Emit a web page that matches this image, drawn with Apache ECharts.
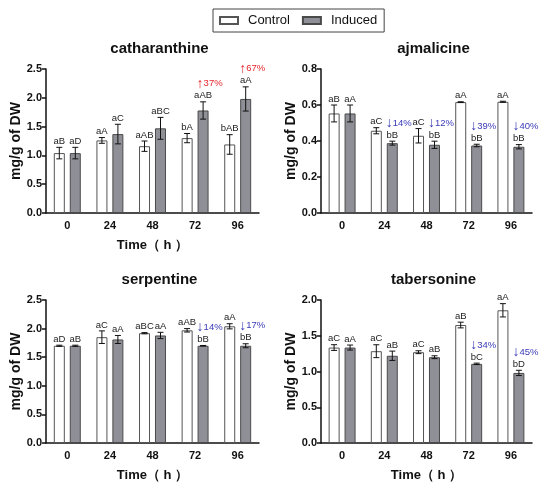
<!DOCTYPE html>
<html>
<head>
<meta charset="utf-8">
<script src="https://cdn.jsdelivr.net/npm/echarts@6/dist/echarts.min.js"></script>
<style>
  html, body { margin: 0; padding: 0; background: #fff; }
  #main { width: 550px; height: 488px; }
</style>
</head>
<body>
<div id="main"></div>
<script>
// time points (h)
const categories = ['0', '24', '48', '72', '96'];

// catharanthine
const cathControl = [1.04, 1.26, 1.16, 1.30, 1.19];
const cathControlErr = [0.10, 0.05, 0.09, 0.08, 0.17];
const cathInduced = [1.04, 1.37, 1.47, 1.78, 1.98];
const cathInducedErr = [0.10, 0.17, 0.19, 0.15, 0.21];
const cathControlTags = ['aB', 'aA', 'aAB', 'bA', 'bAB'];
const cathInducedTags = ['aD', 'aC', 'aBC', 'aAB', 'aA'];
const cathChange = ['', '', '', '↑37%', '↑67%'];

// ajmalicine
const ajmControl = [0.553, 0.457, 0.429, 0.616, 0.618];
const ajmControlErr = [0.047, 0.017, 0.040, 0.002, 0.003];
const ajmInduced = [0.553, 0.388, 0.379, 0.375, 0.368];
const ajmInducedErr = [0.047, 0.011, 0.020, 0.007, 0.012];
const ajmControlTags = ['aB', 'aC', 'aC', 'aA', 'aA'];
const ajmInducedTags = ['aA', 'bB', 'bB', 'bB', 'bB'];
const ajmChange = ['', '↓14%', '↓12%', '↓39%', '↓40%'];

// serpentine
const serpControl = [1.70, 1.85, 1.92, 1.97, 2.04];
const serpControlErr = [0.01, 0.11, 0.01, 0.03, 0.045];
const serpInduced = [1.70, 1.81, 1.88, 1.70, 1.70];
const serpInducedErr = [0.01, 0.07, 0.055, 0.005, 0.035];
const serpControlTags = ['aD', 'aC', 'aBC', 'aAB', 'aA'];
const serpInducedTags = ['aB', 'aA', 'aA', 'bB', 'bB'];
const serpChange = ['', '', '', '↓14%', '↓17%'];

// tabersonine
const tabControl = [1.335, 1.284, 1.27, 1.65, 1.856];
const tabControlErr = [0.04, 0.09, 0.02, 0.04, 0.093];
const tabInduced = [1.335, 1.22, 1.20, 1.107, 0.98];
const tabInducedErr = [0.035, 0.065, 0.02, 0.01, 0.037];
const tabControlTags = ['aC', 'aC', 'aC', 'aB', 'aA'];
const tabInducedTags = ['aA', 'aB', 'aB', 'bC', 'bD'];
const tabChange = ['', '', '', '↓34%', '↓45%'];

// axis ranges
const yMax = [2.5, 0.8, 2.5, 2.0];
const yStep = [0.5, 0.2, 0.5, 0.5];
const titles = ['catharanthine', 'ajmalicine', 'serpentine', 'tabersonine'];

const panels = [
  { control: cathControl, cErr: cathControlErr, induced: cathInduced, iErr: cathInducedErr,
    cTags: cathControlTags, iTags: cathInducedTags, change: cathChange },
  { control: ajmControl, cErr: ajmControlErr, induced: ajmInduced, iErr: ajmInducedErr,
    cTags: ajmControlTags, iTags: ajmInducedTags, change: ajmChange },
  { control: serpControl, cErr: serpControlErr, induced: serpInduced, iErr: serpInducedErr,
    cTags: serpControlTags, iTags: serpInducedTags, change: serpChange },
  { control: tabControl, cErr: tabControlErr, induced: tabInduced, iErr: tabInducedErr,
    cTags: tabControlTags, iTags: tabInducedTags, change: tabChange }
];

const FONT = 'Arial, "Liberation Sans", sans-serif';
const BAR_W = 11;
const OFFSET = 8; // half of barWidth + gap

const grids = [
  { left: 46, top: 69, width: 213, height: 144 },
  { left: 321, top: 69, width: 211, height: 144 },
  { left: 46, top: 300, width: 213, height: 143 },
  { left: 321, top: 300, width: 211, height: 143 }
];

// error bars + letter tags (+ optional change note) drawn over a bar
function errorSeries(gi, values, errs, tags, offset, change) {
  return {
    type: 'custom',
    xAxisIndex: gi,
    yAxisIndex: gi,
    z: 5,
    silent: true,
    data: values.map((v, i) => [i, v, errs[i]]),
    encode: { x: 0, y: 1 },
    renderItem: function (params, api) {
      const i = api.value(0);
      const v = api.value(1);
      const e = api.value(2);
      const top = api.coord([i, v + e]);
      const bot = api.coord([i, v - e]);
      const x = top[0] + offset;
      const line = { stroke: '#111', lineWidth: 1 };
      const children = [
        { type: 'line', shape: { x1: x, y1: top[1], x2: x, y2: bot[1] }, style: line },
        { type: 'line', shape: { x1: x - 3, y1: top[1], x2: x + 3, y2: top[1] }, style: line },
        { type: 'line', shape: { x1: x - 3, y1: bot[1], x2: x + 3, y2: bot[1] }, style: line },
        {
          type: 'text',
          style: {
            x: x, y: top[1] - 1,
            text: tags[params.dataIndex],
            align: 'center', verticalAlign: 'bottom',
            font: '9.5px ' + FONT, fill: '#222'
          }
        }
      ];
      const note = change ? change[params.dataIndex] : '';
      if (note) {
        const col = note.charAt(0) === '↑' ? '#e5262b' : '#3a3ab8';
        // arrow glyph and percentage drawn as two texts
        children.push({
          type: 'text',
          style: {
            x: x - BAR_W / 2 - 1, y: top[1] - 11,
            text: note.charAt(0),
            align: 'left', verticalAlign: 'bottom',
            font: '14px ' + FONT, fill: col
          }
        });
        children.push({
          type: 'text',
          style: {
            x: x - BAR_W / 2 + 6, y: top[1] - 13,
            text: note.slice(1),
            align: 'left', verticalAlign: 'bottom',
            font: '9.5px ' + FONT, fill: col
          }
        });
      }
      return { type: 'group', children: children };
    }
  };
}

const option = {
  animation: false,
  backgroundColor: '#fff',
  textStyle: { fontFamily: FONT },
  legend: {
    data: ['Control', 'Induced'],
    left: 213,
    top: 9,
    padding: [5, 7, 5, 6],
    itemWidth: 18,
    itemHeight: 7,
    itemGap: 12,
    borderColor: '#444',
    borderWidth: 1,
    icon: 'rect',
    textStyle: { fontSize: 13, color: '#111', fontFamily: FONT, padding: [0, 0, 0, 5] }
  },
  title: titles.map((t, gi) => ({
    text: t,
    left: grids[gi].left + grids[gi].width / 2 + 2,
    top: grids[gi].top - 33,
    textAlign: 'center',
    textStyle: { fontSize: 15, fontWeight: 'bold', color: '#111', fontFamily: FONT }
  })),
  grid: grids,
  xAxis: grids.map((g, gi) => ({
    type: 'category',
    gridIndex: gi,
    data: categories,
    name: gi === 1 ? '' : 'Time（ h ）',
    nameLocation: 'middle',
    nameGap: 26,
    nameTextStyle: { fontSize: 13, fontWeight: 'bold', color: '#111' },
    axisLine: { lineStyle: { color: '#111', width: 1.5 } },
    axisTick: { alignWithLabel: true, length: 4, lineStyle: { color: '#111', width: 1.5 } },
    axisLabel: { fontSize: 11, fontWeight: 'bold', color: '#111', margin: 7 }
  })),
  yAxis: grids.map((g, gi) => ({
    type: 'value',
    gridIndex: gi,
    min: 0,
    max: yMax[gi],
    interval: yStep[gi],
    name: 'mg/g of DW',
    nameLocation: 'middle',
    nameGap: 22,
    nameTextStyle: { fontSize: 14, fontWeight: 'bold', color: '#111' },
    splitLine: { show: false },
    axisLine: { show: true, lineStyle: { color: '#111', width: 1.5 } },
    axisTick: { show: true, length: 4, lineStyle: { color: '#111', width: 1.5 } },
    axisLabel: {
      fontSize: 11, fontWeight: 'bold', color: '#111', margin: 4,
      formatter: v => v.toFixed(1)
    }
  })),
  series: []
};

panels.forEach((p, gi) => {
  option.series.push({
    name: 'Control',
    type: 'bar',
    xAxisIndex: gi,
    yAxisIndex: gi,
    data: p.control,
    barWidth: BAR_W,
    barGap: '45%',
    itemStyle: { color: '#ffffff', borderColor: '#555', borderWidth: 1 }
  });
  option.series.push({
    name: 'Induced',
    type: 'bar',
    xAxisIndex: gi,
    yAxisIndex: gi,
    data: p.induced,
    barWidth: BAR_W,
    barGap: '45%',
    itemStyle: { color: '#8f8f97', borderColor: '#4a4a4a', borderWidth: 1 }
  });
  option.series.push(errorSeries(gi, p.control, p.cErr, p.cTags, -OFFSET, null));
  option.series.push(errorSeries(gi, p.induced, p.iErr, p.iTags, OFFSET, p.change));
});

const chart = echarts.init(document.getElementById('main'), null, { renderer: 'canvas' });
chart.setOption(option);
window.addEventListener('resize', chart.resize);
</script>
</body>
</html>
